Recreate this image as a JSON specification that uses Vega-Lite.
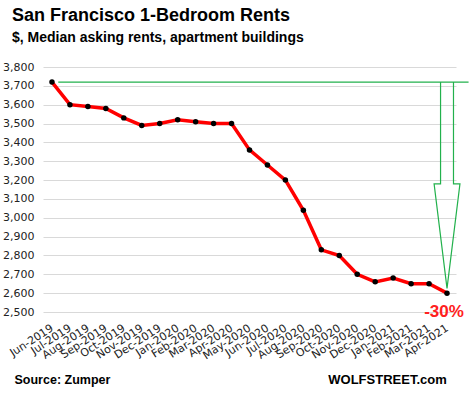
{
  "$schema": "https://vega.github.io/schema/vega-lite/v6.json",
  "autosize": "none",
  "width": 413,
  "height": 245,
  "padding": {"left": 43, "top": 67, "right": 13, "bottom": 87},
  "background": "white",
  "config": {
    "view": {"stroke": null},
    "font": "Liberation Sans",
    "axis": {"labelFont": "DejaVu Sans", "labelColor": "#222222", "labelFontSize": 11}
  },
  "title": {
    "text": "San Francisco 1-Bedroom Rents",
    "subtitle": "$, Median asking rents, apartment buildings",
    "anchor": "start",
    "frame": "group",
    "dx": -31,
    "offset": 16,
    "font": "Liberation Sans",
    "fontSize": 18,
    "fontWeight": "bold",
    "color": "#000000",
    "subtitleFont": "Liberation Sans",
    "subtitleFontSize": 14,
    "subtitleFontWeight": "bold",
    "subtitleColor": "#000000",
    "subtitlePadding": 6
  },
  "datasets": {
    "rents": [
      {"month": "Jun-2019", "rent": 3720},
      {"month": "Jul-2019", "rent": 3600},
      {"month": "Aug-2019", "rent": 3590},
      {"month": "Sep-2019", "rent": 3580},
      {"month": "Oct-2019", "rent": 3530},
      {"month": "Nov-2019", "rent": 3490},
      {"month": "Dec-2019", "rent": 3500},
      {"month": "Jan-2020", "rent": 3520},
      {"month": "Feb-2020", "rent": 3510},
      {"month": "Mar-2020", "rent": 3500},
      {"month": "Apr-2020", "rent": 3500},
      {"month": "May-2020", "rent": 3360},
      {"month": "Jun-2020", "rent": 3280},
      {"month": "Jul-2020", "rent": 3200},
      {"month": "Aug-2020", "rent": 3040},
      {"month": "Sep-2020", "rent": 2830},
      {"month": "Oct-2020", "rent": 2800},
      {"month": "Nov-2020", "rent": 2700},
      {"month": "Dec-2020", "rent": 2660},
      {"month": "Jan-2021", "rent": 2680},
      {"month": "Feb-2021", "rent": 2650},
      {"month": "Mar-2021", "rent": 2650},
      {"month": "Apr-2021", "rent": 2600}
    ],
    "arrow": [
      {"part": "h", "ord": 1, "ax": 0.35, "ay": 3720},
      {"part": "h", "ord": 2, "ax": 23.2, "ay": 3720},
      {"part": "a", "ord": 1, "ax": 21.64, "ay": 3720},
      {"part": "a", "ord": 2, "ax": 21.64, "ay": 3180},
      {"part": "a", "ord": 3, "ax": 21.28, "ay": 3180},
      {"part": "a", "ord": 4, "ax": 22.0, "ay": 2625},
      {"part": "a", "ord": 5, "ax": 22.72, "ay": 3180},
      {"part": "a", "ord": 6, "ax": 22.36, "ay": 3180},
      {"part": "a", "ord": 7, "ax": 22.36, "ay": 3720}
    ],
    "label": [
      {"ax": 21.83, "ay": 2500, "text": "-30%"}
    ]
  },
  "encoding": {
    "y": {
      "type": "quantitative",
      "scale": {"domain": [2500, 3800], "nice": false, "zero": false},
      "axis": {
        "values": [2500, 2600, 2700, 2800, 2900, 3000, 3100, 3200, 3300, 3400, 3500, 3600, 3700, 3800],
        "labelExpr": "format(datum.value, ',')", "ticks": false, "domain": false, "labelPadding": 9,
        "grid": true, "gridColor": "#d9d9d9", "gridWidth": 1, "title": null
      }
    }
  },
  "layer": [
    {
      "data": {"name": "rents"},
      "encoding": {
        "x": {
          "field": "month", "type": "ordinal", "sort": null,
          "scale": {"type": "point", "padding": 0.5},
          "axis": {
            "labelAngle": -33, "labelAlign": "right", "labelBaseline": "middle",
            "labelPadding": 15, "labelOffset": 0, "ticks": false, "domain": false, "grid": false,
            "title": "Source: Zumper", "titleFont": "Liberation Sans", "titleFontSize": 12.5,
            "titleFontWeight": "bold", "titleColor": "#000000",
            "titleAnchor": "start", "titleAlign": "left", "titleBaseline": "alphabetic",
            "titleX": -29, "titleY": 71
          }
        },
        "y": {"field": "rent", "type": "quantitative"}
      },
      "layer": [
        {"mark": {"type": "line", "color": "#ff0000", "strokeWidth": 3.5}},
        {"mark": {"type": "point", "filled": true, "color": "#000000", "size": 30, "opacity": 1}}
      ]
    },
    {
      "layer": [
        {
          "data": {"name": "arrow"},
          "mark": {"type": "line", "color": "#22b14c", "strokeWidth": 1.2, "clip": false},
          "encoding": {
            "x": {
              "field": "ax", "type": "quantitative",
              "scale": {"domain": [-0.5, 22.5], "nice": false, "zero": false},
              "axis": {
                "orient": "top", "labels": false, "ticks": false, "domain": false, "grid": false,
                "title": "WOLFSTREET.com", "titleFont": "Liberation Sans", "titleFontSize": 13,
                "titleFontWeight": "bold", "titleColor": "#000000",
                "titleAlign": "center", "titleBaseline": "alphabetic", "titleAngle": 0,
                "titleX": 344, "titleY": 316
              }
            },
            "y": {"field": "ay", "type": "quantitative"},
            "detail": {"field": "part"},
            "order": {"field": "ord"}
          }
        },
        {
          "data": {"name": "label"},
          "mark": {"type": "text", "color": "#ff2020", "fontSize": 17, "fontWeight": "bold", "font": "Liberation Sans", "baseline": "middle", "align": "center"},
          "encoding": {
            "x": {
              "field": "ax", "type": "quantitative",
              "scale": {"domain": [-0.5, 22.5], "nice": false, "zero": false},
              "axis": {
                "orient": "top", "labels": false, "ticks": false, "domain": false, "grid": false,
                "title": "WOLFSTREET.com", "titleFont": "Liberation Sans", "titleFontSize": 13,
                "titleFontWeight": "bold", "titleColor": "#000000",
                "titleAlign": "center", "titleBaseline": "alphabetic", "titleAngle": 0,
                "titleX": 344, "titleY": 316
              }
            },
            "y": {"field": "ay", "type": "quantitative"},
            "text": {"field": "text"}
          }
        }
      ]
    }
  ],
  "resolve": {"scale": {"x": "independent", "y": "shared"}, "axis": {"x": "independent", "y": "shared"}}
}
